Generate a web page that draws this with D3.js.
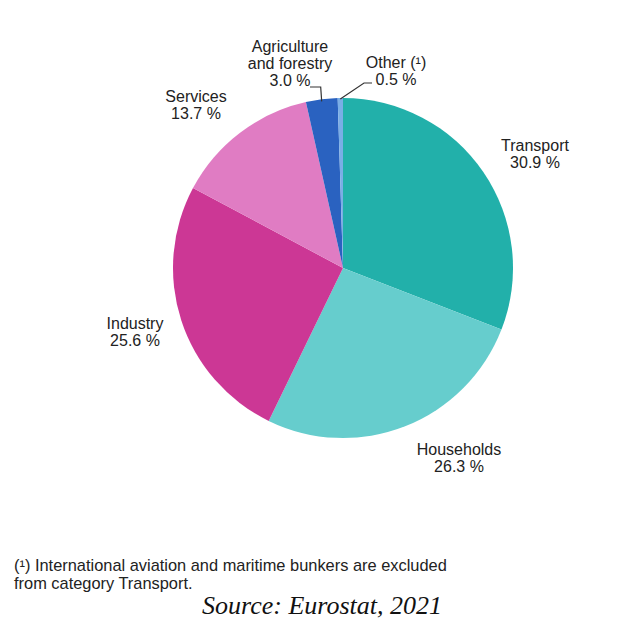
<!DOCTYPE html>
<html>
<head>
<meta charset="utf-8">
<script src="https://cdn.jsdelivr.net/npm/d3@7"></script>
<style>
  html, body { margin: 0; padding: 0; background: #ffffff; }
  svg { display: block; }
  .lbl { font-family: "Liberation Sans", Arial, sans-serif; font-size: 16px; fill: #222; }
  .note { font-family: "Liberation Sans", Arial, sans-serif; font-size: 16.4px; fill: #222; }
  .src { font-family: "Liberation Serif", "Times New Roman", serif; font-style: italic; font-size: 26px; fill: #111; }
</style>
</head>
<body>
<script>
// Final energy consumption by sector
const categories = ["Transport", "Households", "Industry", "Services", "Agriculture and forestry", "Other (¹)"];
const shares = [30.9, 26.3, 25.6, 13.7, 3.0, 0.5];
const colours = ["#22b0aa", "#66cdcd", "#cc3795", "#e07cc3", "#2a62c0", "#7aaee6"];
// label lines per sector (name lines, then value)
const labelLines = [
  ["Transport"],
  ["Households"],
  ["Industry"],
  ["Services"],
  ["Agriculture", "and forestry"],
  ["Other (¹)"]
];
const footnote = ["(¹) International aviation and maritime bunkers are excluded", "from category Transport."];
const source = "Source: Eurostat, 2021";

const W = 619, H = 625;
const cx = 343, cy = 268, R = 170;

const svg = d3.select("body").append("svg").attr("width", W).attr("height", H);

const data = categories.map((c, i) => ({ name: c, value: shares[i], colour: colours[i], lines: labelLines[i] }));

const pie = d3.pie().value(d => d.value).sort(null).startAngle(0).endAngle(2 * Math.PI);
const arc = d3.arc().innerRadius(0).outerRadius(R);
const arcs = pie(data);

const g = svg.append("g").attr("transform", `translate(${cx},${cy})`);
g.selectAll("path").data(arcs).enter().append("path")
  .attr("d", arc)
  .attr("fill", d => d.data.colour);

// label anchor positions (centre x, first baseline y)
const labelPos = [
  [535, 151],
  [459, 455],
  [135, 329],
  [196, 102],
  [290, 52],
  [396, 68]
];
const lineH = 17;

arcs.forEach((a, i) => {
  const [lx, ly] = labelPos[i];
  const t = svg.append("text").attr("class", "lbl").attr("text-anchor", "middle");
  const lines = a.data.lines.concat([d3.format(".1f")(a.data.value) + " %"]);
  lines.forEach((s, k) => {
    t.append("tspan").attr("x", lx).attr("y", ly + k * lineH).text(s);
  });
});

// leader lines for the two thin slices
const toXY = (ang, r) => [cx + r * Math.sin(ang), cy - r * Math.cos(ang)];
const agri = arcs[4], other = arcs[5];
const agriMid = toXY((agri.startAngle + agri.endAngle) / 2, R);
const otherMid = toXY((other.startAngle + other.endAngle) / 2, R);

svg.append("path")
  .attr("d", d3.line()([[310, 87], [agriMid[0] - 1, 87], [agriMid[0], agriMid[1] + 2]]))
  .attr("fill", "none").attr("stroke", "#333").attr("stroke-width", 1.2);
svg.append("path")
  .attr("d", d3.line()([[372, 83], [364, 83], [otherMid[0], otherMid[1] + 1]]))
  .attr("fill", "none").attr("stroke", "#333").attr("stroke-width", 1.2);

// footnote and source
footnote.forEach((s, k) => {
  svg.append("text").attr("class", "note").attr("x", 14).attr("y", 571 + k * 18).text(s);
});
svg.append("text").attr("class", "src").attr("x", 322).attr("y", 614).attr("text-anchor", "middle").text(source);
</script>
</body>
</html>
